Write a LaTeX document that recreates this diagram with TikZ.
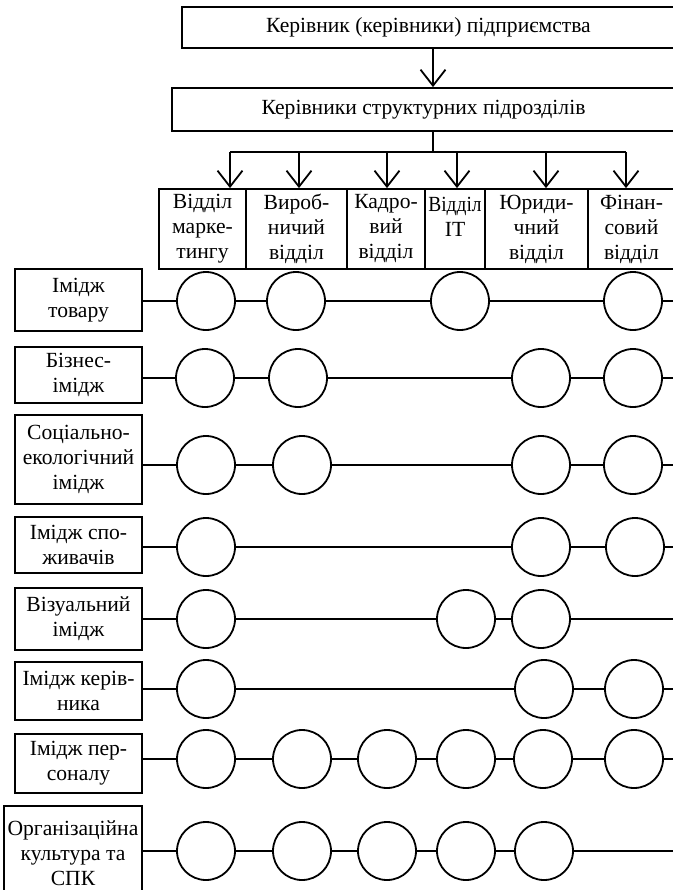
\documentclass[tikz,border=0pt]{standalone}
\usepackage{fontspec}
\setmainfont{Liberation Serif}
\usetikzlibrary{arrows.meta}
\begin{document}
\begin{tikzpicture}[x=0.5pt,y=-0.5pt,
  every node/.style={font=\fontsize{10.8pt}{12.5pt}\selectfont, inner sep=0pt},
  box/.style={draw, line width=0.9pt, align=center},
  hub/.style={draw, line width=0.9pt, circle, minimum size=29pt, fill=white},
  link/.style={line width=0.9pt},
  flow/.style={line width=0.9pt, -{Straight Barb[length=8pt,width=12.5pt,line width=0.9pt]}}
]
\useasboundingbox (0,0) rectangle (673,890);
\clip (0,0) rectangle (673,890);

% management levels
\node[box, minimum width=246.5pt, minimum height=20.5pt] (top) at (428.5,27.5) {Керівник (керівники) підприємства};
\node[box, minimum width=251.5pt, minimum height=21.5pt] (mid) at (423.5,109.5) {Керівники структурних підрозділів};

% departments
\node[box, minimum width=43.5pt, minimum height=40pt] (d1) at (202.5,229) {Відділ\\марке-\\тингу};
\node[box, minimum width=50.5pt, minimum height=40pt] (d2) at (296.5,229) {Вироб-\\ничий\\відділ};
\node[box, minimum width=39pt,   minimum height=40pt] (d3) at (386,229)   {Кадро-\\вий\\відділ};
\node[box, minimum width=30pt,   minimum height=40pt] (d4) at (455,229)   {\scalebox{0.9}[1]{Відділ}\\IT\\\mbox{}};
\node[box, minimum width=51.5pt, minimum height=40pt] (d5) at (536.5,229) {Юриди-\\чний\\відділ};
\node[box, minimum width=43.5pt, minimum height=40pt] (d6) at (631.5,229) {Фінан-\\совий\\відділ};

% top-down arrows
\coordinate (ax) at (433,0);
\draw[flow] (top.south -| ax) -- (mid.north -| ax);
\coordinate (bus) at (433,152);
\draw[link] (mid.south -| bus) -- (bus);
\coordinate (a1) at (230,152);
\coordinate (a2) at (299,152);
\coordinate (a3) at (387,152);
\coordinate (a4) at (457,152);
\coordinate (a5) at (546,152);
\coordinate (a6) at (626,152);
\draw[link] (a1) -- (a6);
\foreach \i in {1,...,6}{
  \draw[flow] (a\i) -- (a\i |- d\i.north);
}

% image types
\node[box, minimum width=63.5pt, minimum height=31pt]   (r1) at (78.5,300)   {Імідж\\товару};
\node[box, minimum width=63.5pt, minimum height=28pt]   (r2) at (78.5,375)   {Бізнес-\\імідж};
\node[box, minimum width=63.5pt, minimum height=44.5pt] (r3) at (78.5,459.5) {Соціально-\\екологічний\\імідж};
\node[box, minimum width=63.5pt, minimum height=28pt]   (r4) at (78.5,545)   {Імідж спо-\\живачів};
\node[box, minimum width=63.5pt, minimum height=31pt]   (r5) at (78.5,619)   {Візуальний\\імідж};
\node[box, minimum width=63.5pt, minimum height=29pt]   (r6) at (78.5,691)   {Імідж керів-\\ника};
\node[box, minimum width=63.5pt, minimum height=29.5pt] (r7) at (78.5,763.5) {Імідж пер-\\соналу};
\node[box, minimum width=69pt,   minimum height=47pt]   (r8) at (73,853)     {Організаційна\\культура та\\СПК};

% row 1
\node[hub] (c1a) at (206,301) {};
\node[hub] (c1b) at (296,301) {};
\node[hub] (c1c) at (460,301) {};
\node[hub] (c1d) at (633,301) {};
\coordinate (e1) at (690,301);
\draw[link] (r1.east |- c1a) -- (c1a) -- (c1b) -- (c1c) -- (c1d) -- (e1);

% row 2
\node[hub] (c2a) at (205,378) {};
\node[hub] (c2b) at (298,378) {};
\node[hub] (c2c) at (541,378) {};
\node[hub] (c2d) at (633,378) {};
\coordinate (e2) at (690,378);
\draw[link] (r2.east |- c2a) -- (c2a) -- (c2b) -- (c2c) -- (c2d) -- (e2);

% row 3
\node[hub] (c3a) at (206,465) {};
\node[hub] (c3b) at (302,465) {};
\node[hub] (c3c) at (541,465) {};
\node[hub] (c3d) at (633,465) {};
\coordinate (e3) at (690,465);
\draw[link] (r3.east |- c3a) -- (c3a) -- (c3b) -- (c3c) -- (c3d) -- (e3);

% row 4
\node[hub] (c4a) at (206,547) {};
\node[hub] (c4b) at (541,547) {};
\node[hub] (c4c) at (635,547) {};
\coordinate (e4) at (690,547);
\draw[link] (r4.east |- c4a) -- (c4a) -- (c4b) -- (c4c) -- (e4);

% row 5
\node[hub] (c5a) at (206,619) {};
\node[hub] (c5b) at (466,619) {};
\node[hub] (c5c) at (541,619) {};
\coordinate (e5) at (690,619);
\draw[link] (r5.east |- c5a) -- (c5a) -- (c5b) -- (c5c) -- (e5);

% row 6
\node[hub] (c6a) at (206,689) {};
\node[hub] (c6b) at (544,689) {};
\node[hub] (c6c) at (634,689) {};
\coordinate (e6) at (690,689);
\draw[link] (r6.east |- c6a) -- (c6a) -- (c6b) -- (c6c) -- (e6);

% row 7
\node[hub] (c7a) at (206,759) {};
\node[hub] (c7b) at (302,759) {};
\node[hub] (c7c) at (387,759) {};
\node[hub] (c7d) at (466,759) {};
\node[hub] (c7e) at (543,759) {};
\node[hub] (c7f) at (634,759) {};
\coordinate (e7) at (690,759);
\draw[link] (r7.east |- c7a) -- (c7a) -- (c7b) -- (c7c) -- (c7d) -- (c7e) -- (c7f) -- (e7);

% row 8
\node[hub] (c8a) at (206,851) {};
\node[hub] (c8b) at (302,851) {};
\node[hub] (c8c) at (387,851) {};
\node[hub] (c8d) at (466,851) {};
\node[hub] (c8e) at (544,851) {};
\coordinate (e8) at (690,851);
\draw[link] (r8.east |- c8a) -- (c8a) -- (c8b) -- (c8c) -- (c8d) -- (c8e) -- (e8);
\end{tikzpicture}
\end{document}
